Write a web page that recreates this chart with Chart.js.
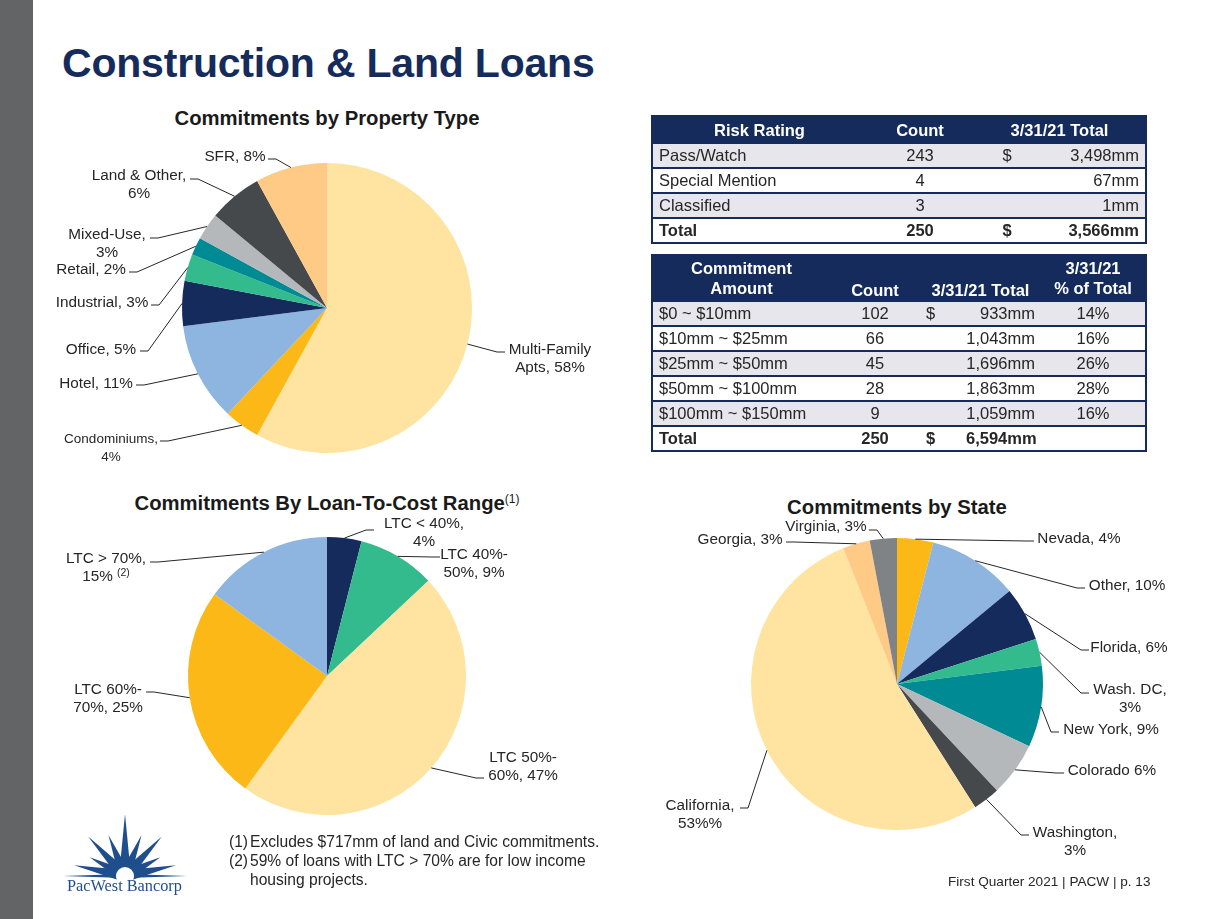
<!DOCTYPE html>
<html>
<head>
<meta charset="utf-8">
<script src="https://cdn.jsdelivr.net/npm/chart.js@4/dist/chart.umd.min.js"></script>
<style>
  body { margin: 0; width: 1225px; height: 919px; position: relative; background: #fff; overflow: hidden;
         font-family: "Liberation Sans", Arial, sans-serif; color: #262626; }
  .bar { position: absolute; left: 0; top: 0; width: 33px; height: 919px; background: #636466; }
  .title { position: absolute; left: 62px; top: 40px; font-size: 41px; font-weight: bold; color: #152B5C; letter-spacing: -0.2px; }
  .ptitle { position: absolute; font-size: 20.3px; font-weight: bold; color: #1a1a1a; text-align: center; }
  .ptitle sup { font-size: 12px; font-weight: normal; vertical-align: 7px; }
  canvas { position: absolute; left: 0; top: 0; }
  table { position: absolute; left: 651px; width: 494px; border-collapse: collapse; table-layout: fixed;
          font-size: 16.5px; border: 2px solid #152B5C; }
  th { background: #152B5C; color: #fff; font-weight: bold; padding: 0 6px; line-height: 20px; }
  td { border-top: 2px solid #152B5C; padding: 0 6px; height: 23px; line-height: 19px; white-space: nowrap; }
  tr.shade td { background: #E7E6EC; }
  tr.total td { font-weight: bold; }
  .l { text-align: left; } .c { text-align: center; } .r { text-align: right; }
  .notes { position: absolute; left: 229px; top: 832px; font-size: 15.6px; line-height: 19px; color: #262626; }
  .notes div { position: relative; padding-left: 21px; }
  .notes span { position: absolute; left: 0; }
  .footer { position: absolute; left: 948px; top: 874px; font-size: 13.6px; color: #262626; }
  .logo { position: absolute; left: 60px; top: 815px; }
  .logotext { position: absolute; left: 67px; top: 876px; font-family: "Liberation Serif", "Times New Roman", serif;
              font-size: 16.3px; color: #1F4E8C; }
</style>
</head>
<body>
<div class="bar"></div>
<div class="title">Construction &amp; Land Loans</div>

<div class="ptitle" style="left:127px; top:107px; width:400px;">Commitments by Property Type</div>
<div class="ptitle" style="left:97px; top:492px; width:460px;">Commitments By Loan-To-Cost Range<sup>(1)</sup></div>
<div class="ptitle" style="left:697px; top:496px; width:400px;">Commitments by State</div>

<canvas id="property-chart" width="1225" height="919"></canvas>
<canvas id="ltc-chart" width="1225" height="919"></canvas>
<canvas id="state-chart" width="1225" height="919"></canvas>

<table id="risk-table" style="top:115px;">
  <colgroup><col style="width:214px"><col style="width:108px"><col style="width:66px"><col style="width:106px"></colgroup>
  <thead><tr style="height:27px"><th>Risk Rating</th><th>Count</th><th colspan="2">3/31/21 Total</th></tr></thead>
  <tbody></tbody>
</table>

<table id="commit-table" style="top:254px;">
  <colgroup><col style="width:178px"><col style="width:90px"><col style="width:40px"><col style="width:81px"><col style="width:105px"></colgroup>
  <thead><tr style="height:46px">
    <th style="vertical-align:middle">Commitment<br>Amount</th>
    <th style="vertical-align:bottom">Count</th>
    <th colspan="2" style="vertical-align:bottom">3/31/21 Total</th>
    <th style="vertical-align:middle">3/31/21<br>% of Total</th>
  </tr></thead>
  <tbody></tbody>
</table>

<svg class="logo" width="135" height="65" viewBox="0 0 135 65">
  <g id="rays" fill="#1F4E8C"></g>
  <circle cx="65" cy="61" r="9" fill="#fff"/>
</svg>
<div class="logotext">PacWest Bancorp</div>

<div class="notes">
  <div><span>(1)</span>Excludes $717mm of land and Civic commitments.</div>
  <div><span>(2)</span>59% of loans with LTC &gt; 70% are for low income<br>housing projects.</div>
</div>
<div class="footer">First Quarter 2021 | PACW | p. 13</div>

<script>
// Commitments by property type
const propertyNames = ['Multi-Family Apts', 'Condominiums', 'Hotel', 'Office', 'Industrial', 'Retail', 'Mixed-Use', 'Land & Other', 'SFR'];
const propertyValues = [58, 4, 11, 5, 3, 2, 3, 6, 8];
const propertyColors = ['#FFE3A1', '#FBB817', '#8EB4E0', '#152B5C', '#33BB8E', '#008A93', '#B5B8BA', '#46494C', '#FFCA85'];
const propertyText = [['Multi-Family', 'Apts, 58%'], ['Condominiums,', '4%'], ['Hotel, 11%'], ['Office, 5%'], ['Industrial, 3%'],
    ['Retail, 2%'], ['Mixed-Use,', '3%'], ['Land & Other,', '6%'], ['SFR, 8%']];

// Commitments by loan-to-cost range
const ltcNames = ['LTC < 40%', 'LTC 40%-50%', 'LTC 50%-60%', 'LTC 60%-70%', 'LTC > 70%'];
const ltcValues = [4, 9, 47, 25, 15];
const ltcColors = ['#152B5C', '#33BB8E', '#FFE3A1', '#FBB817', '#8EB4E0'];
const ltcText = [['LTC < 40%,', '4%'], ['LTC 40%-', '50%, 9%'], ['LTC 50%-', '60%, 47%'], ['LTC 60%-', '70%, 25%'], ['LTC > 70%,', '15%']];

// Commitments by state
const stateNames = ['Nevada', 'Other', 'Florida', 'Wash. DC', 'New York', 'Colorado', 'Washington', 'California', 'Georgia', 'Virginia'];
const stateValues = [4, 10, 6, 3, 9, 6, 3, 53, 3, 3];
const stateColors = ['#FBB817', '#8EB4E0', '#152B5C', '#33BB8E', '#008A93', '#B5B8BA', '#46494C', '#FFE3A1', '#FFCA85', '#7F8385'];
const stateText = [['Nevada, 4%'], ['Other, 10%'], ['Florida, 6%'], ['Wash. DC,', '3%'], ['New York, 9%'], ['Colorado 6%'],
    ['Washington,', '3%'], ['California,', '53%%'], ['Georgia, 3%'], ['Virginia, 3%']];

// Risk rating table
const riskNames = ['Pass/Watch', 'Special Mention', 'Classified', 'Total'];
const riskCounts = ['243', '4', '3', '250'];
const riskDollar = ['$', '', '', '$'];
const riskTotals = ['3,498mm', '67mm', '1mm', '3,566mm'];

// Commitment amount table
const commitRanges = ['$0 ~ $10mm', '$10mm ~ $25mm', '$25mm ~ $50mm', '$50mm ~ $100mm', '$100mm ~ $150mm', 'Total'];
const commitCounts = ['102', '66', '45', '28', '9', '250'];
const commitDollar = ['$', '', '', '', '', '$'];
const commitTotals = ['933mm', '1,043mm', '1,696mm', '1,863mm', '1,059mm', '6,594mm'];
const commitPct = ['14%', '16%', '26%', '28%', '16%', ''];

// label placement: text centre (tx, first line ty), leader end (lx, ly)
const propertyPos = [
    {tx: 550, ty: 350, lx: 505, ly: 352}, {tx: 111, ty: 439, lx: 160, ly: 441, size: 13.5},
    {tx: 96, ty: 384, lx: 136, ly: 385}, {tx: 101, ty: 350, lx: 140, ly: 351},
    {tx: 102, ty: 303, lx: 151, ly: 305}, {tx: 91, ty: 270, lx: 129, ly: 272},
    {tx: 107, ty: 235, lx: 150, ly: 238}, {tx: 139, ty: 176, lx: 190, ly: 179},
    {tx: 235, ty: 157, lx: 268, ly: 159}
];
const ltcPos = [
    {tx: 424, ty: 524, lx: 374, ly: 530}, {tx: 474, ty: 555, lx: 440, ly: 557},
    {tx: 523, ty: 758, lx: 484, ly: 778}, {tx: 108, ty: 690, lx: 146, ly: 692},
    {tx: 106, ty: 559, lx: 150, ly: 562, sup: '(2)'}
];
const statePos = [
    {tx: 1079, ty: 539, lx: 1034, ly: 541}, {tx: 1127, ty: 586, lx: 1085, ly: 588},
    {tx: 1129, ty: 648, lx: 1089, ly: 650}, {tx: 1130, ty: 690, lx: 1089, ly: 693},
    {tx: 1111, ty: 730, lx: 1059, ly: 732}, {tx: 1112, ty: 771, lx: 1064, ly: 773},
    {tx: 1075, ty: 833, lx: 1029, ly: 835}, {tx: 700, ty: 806, lx: 740, ly: 808},
    {tx: 740, ty: 540, lx: 786, ly: 542}, {tx: 826, ty: 527, lx: 869, ly: 530}
];

function leaderPlugin(texts, pos) {
    return {
        id: 'leaderLabels',
        afterDatasetsDraw(chart) {
            const ctx = chart.ctx;
            const arcs = chart.getDatasetMeta(0).data;
            ctx.save();
            ctx.strokeStyle = '#262626';
            ctx.fillStyle = '#262626';
            ctx.lineWidth = 1;
            arcs.forEach((arc, i) => {
                const p = pos[i];
                const mid = (arc.startAngle + arc.endAngle) / 2;
                const px = arc.x + Math.cos(mid) * arc.outerRadius;
                const py = arc.y + Math.sin(mid) * arc.outerRadius;
                const kx = p.lx + (px > p.lx ? 8 : -8);
                ctx.beginPath();
                ctx.moveTo(p.lx, p.ly);
                ctx.lineTo(kx, p.ly);
                ctx.lineTo(px, py);
                ctx.stroke();

                const font = (p.size || 15.3) + 'px "Liberation Sans", Arial, sans-serif';
                ctx.font = font;
                ctx.textBaseline = 'middle';
                const lines = texts[i];
                lines.forEach((line, j) => {
                    const y = p.ty + j * 18;
                    if (p.sup && j === lines.length - 1) {
                        const w1 = ctx.measureText(line + ' ').width;
                        ctx.font = '10.5px "Liberation Sans", Arial, sans-serif';
                        const w2 = ctx.measureText(p.sup).width;
                        const x0 = p.tx - (w1 + w2) / 2;
                        ctx.textAlign = 'left';
                        ctx.fillText(p.sup, x0 + w1, y - 4);
                        ctx.font = font;
                        ctx.fillText(line, x0, y);
                    } else {
                        ctx.textAlign = 'center';
                        ctx.fillText(line, p.tx, y);
                    }
                });
            });
            ctx.restore();
        }
    };
}

function createPie(id, labels, values, colors, texts, pos, padding) {
    const ctx = document.getElementById(id);
    return new Chart(ctx, {
        type: 'pie',
        data: {
            labels: labels,
            datasets: [{
                data: values,
                backgroundColor: colors,
                borderWidth: 0
            }]
        },
        options: {
            responsive: false,
            animation: false,
            layout: { padding: padding },
            plugins: {
                legend: { display: false },
                tooltip: { enabled: false }
            }
        },
        plugins: [leaderPlugin(texts, pos)]
    });
}

createPie('property-chart', propertyNames, propertyValues, propertyColors, propertyText, propertyPos,
    {left: 182, top: 163, right: 753, bottom: 466});
createPie('ltc-chart', ltcNames, ltcValues, ltcColors, ltcText, ltcPos,
    {left: 188, top: 537, right: 759, bottom: 104});
createPie('state-chart', stateNames, stateValues, stateColors, stateText, statePos,
    {left: 751, top: 538, right: 182, bottom: 89});

// tables
const riskBody = document.querySelector('#risk-table tbody');
riskNames.forEach((name, i) => {
    const tr = document.createElement('tr');
    if (i % 2 === 0) tr.className = 'shade';
    if (name === 'Total') tr.className = 'total';
    tr.innerHTML = `<td class="l">${name}</td><td class="c">${riskCounts[i]}</td>` +
        `<td class="c">${riskDollar[i]}</td><td class="r">${riskTotals[i]}</td>`;
    riskBody.appendChild(tr);
});

const commitBody = document.querySelector('#commit-table tbody');
commitRanges.forEach((name, i) => {
    const tr = document.createElement('tr');
    if (i % 2 === 0) tr.className = 'shade';
    if (name === 'Total') tr.className = 'total';
    tr.innerHTML = `<td class="l">${name}</td><td class="c">${commitCounts[i]}</td>` +
        `<td class="l">${commitDollar[i]}</td><td class="r">${commitTotals[i]}</td><td class="c">${commitPct[i]}</td>`;
    commitBody.appendChild(tr);
});

// logo rays
const rays = document.getElementById('rays');
const rayAngles = [-90, -68, -47, -28, -12, 0, -112, -133, -152, -168, -180];
const rayLengths = [62, 44, 54, 40, 52, 62, 44, 54, 40, 52, 62];
rayAngles.forEach((a, i) => {
    const r = a * Math.PI / 180;
    const cx = 65, cy = 61, len = rayLengths[i], hw = a === 0 || a === -180 ? 2 : 6;
    const tx = cx + Math.cos(r) * len, ty = cy + Math.sin(r) * len;
    const nx = -Math.sin(r) * hw, ny = Math.cos(r) * hw;
    const poly = document.createElementNS('http://www.w3.org/2000/svg', 'polygon');
    poly.setAttribute('points', `${cx + nx},${cy + ny} ${tx},${ty} ${cx - nx},${cy - ny}`);
    rays.appendChild(poly);
});
</script>
</body>
</html>
